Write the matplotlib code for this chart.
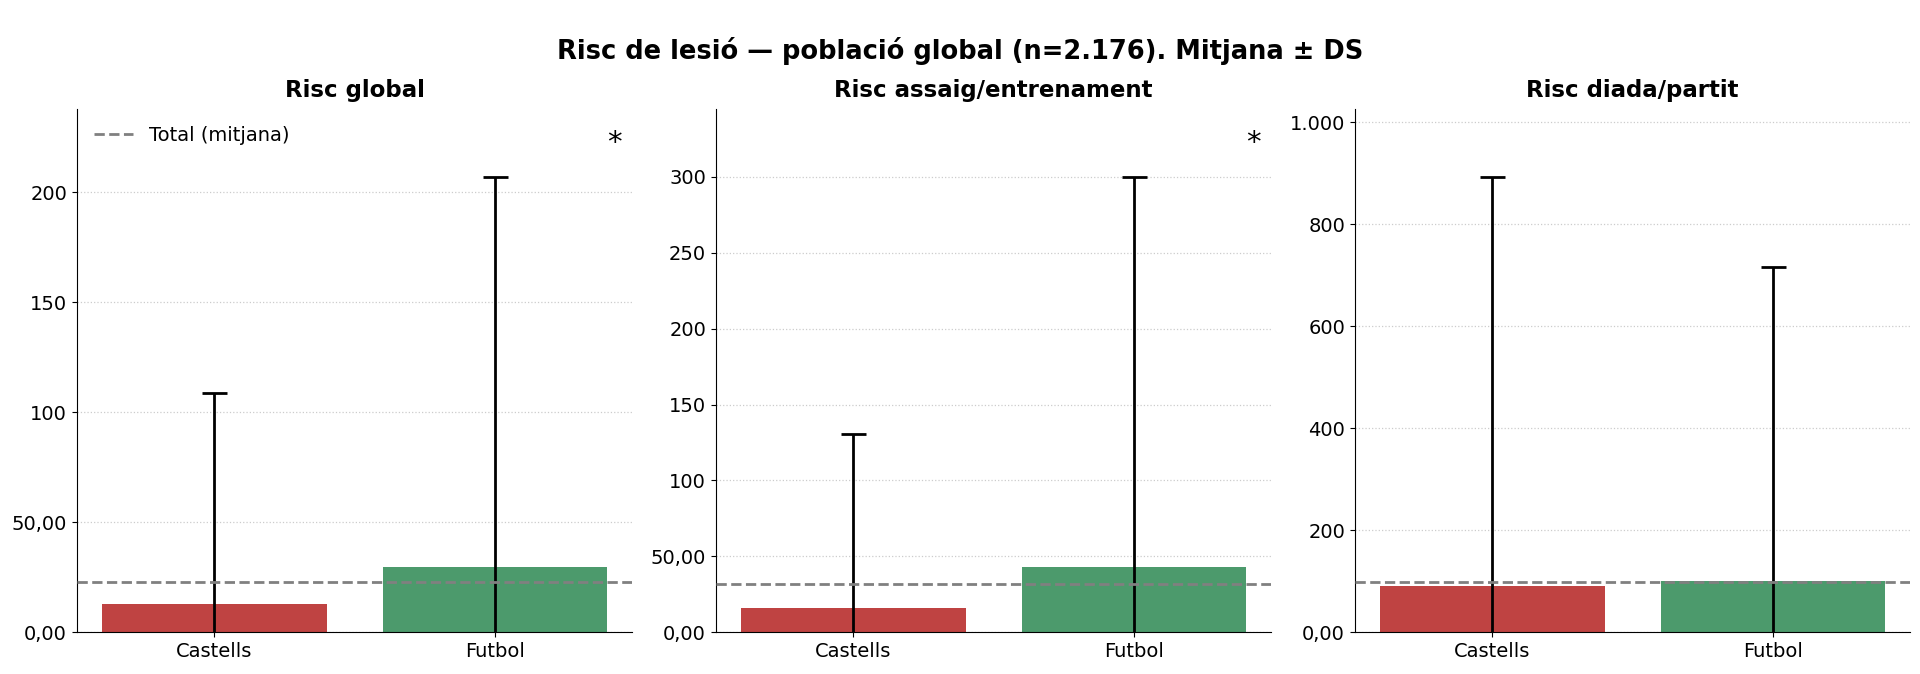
import matplotlib
matplotlib.use("Agg")
import matplotlib.pyplot as plt
import numpy as np
from matplotlib.ticker import FuncFormatter
from matplotlib.lines import Line2D

groups = ["Castells", "Futbol"]
panel_titles = ["Risc global", "Risc assaig/entrenament", "Risc diada/partit"]
means = [
    [12.8, 29.5],
    [16.1, 42.7],
    [90.6, 101.0],
]
sds = [
    [95.8, 177.5],
    [114.5, 257.3],
    [802.0, 614.0],
]
total_means = [22.8, 31.5, 98.0]
significant = [True, True, False]
colors = ["#BF4342", "#4C9A6C"]

suptitle = "Risc de lesió — població global (n=2.176). Mitjana ± DS"


def fmt(v, pos=None):
    if abs(v) < 100:
        return f"{v:.2f}".replace(".", ",")
    return f"{int(round(v)):,}".replace(",", ".")


fig, axes = plt.subplots(1, 3, figsize=(19.2, 6.74), dpi=100)
fig.subplots_adjust(left=0.040, right=0.995, bottom=0.062, top=0.839, wspace=0.15)

x = np.arange(len(groups))
for i, ax in enumerate(axes):
    m = np.array(means[i])
    s = np.array(sds[i])
    ax.bar(x, m, width=0.8, color=colors, zorder=2)
    ax.errorbar(x, m, yerr=s, fmt="none", ecolor="black", elinewidth=2,
                capsize=9, capthick=2, zorder=3)
    ax.axhline(total_means[i], color="gray", linestyle="--", linewidth=2, zorder=4)
    ax.set_ylim(0, (m + s).max() * 1.15)
    ax.set_xticks(x)
    ax.set_xticklabels(groups, fontsize=14)
    ax.yaxis.set_major_formatter(FuncFormatter(fmt))
    ax.tick_params(axis="y", labelsize=14)
    ax.grid(axis="y", linestyle=":", color="#cccccc", linewidth=0.9, zorder=0)
    ax.set_axisbelow(True)
    ax.spines["top"].set_visible(False)
    ax.spines["right"].set_visible(False)
    ax.set_title(panel_titles[i], fontsize=16.5, fontweight="bold", pad=8)
    if significant[i]:
        ax.text(0.967, 0.935, "*", transform=ax.transAxes, fontsize=21,
                ha="center", va="center")
    if i == 0:
        handle = Line2D([0], [0], color="gray", linestyle="--", linewidth=2)
        ax.legend([handle], ["Total (mitjana)"], loc="upper left", frameon=False,
                  fontsize=14)

fig.suptitle(suptitle, fontsize=18.5, fontweight="bold", y=0.945)
fig.savefig("out.png", dpi=100)
